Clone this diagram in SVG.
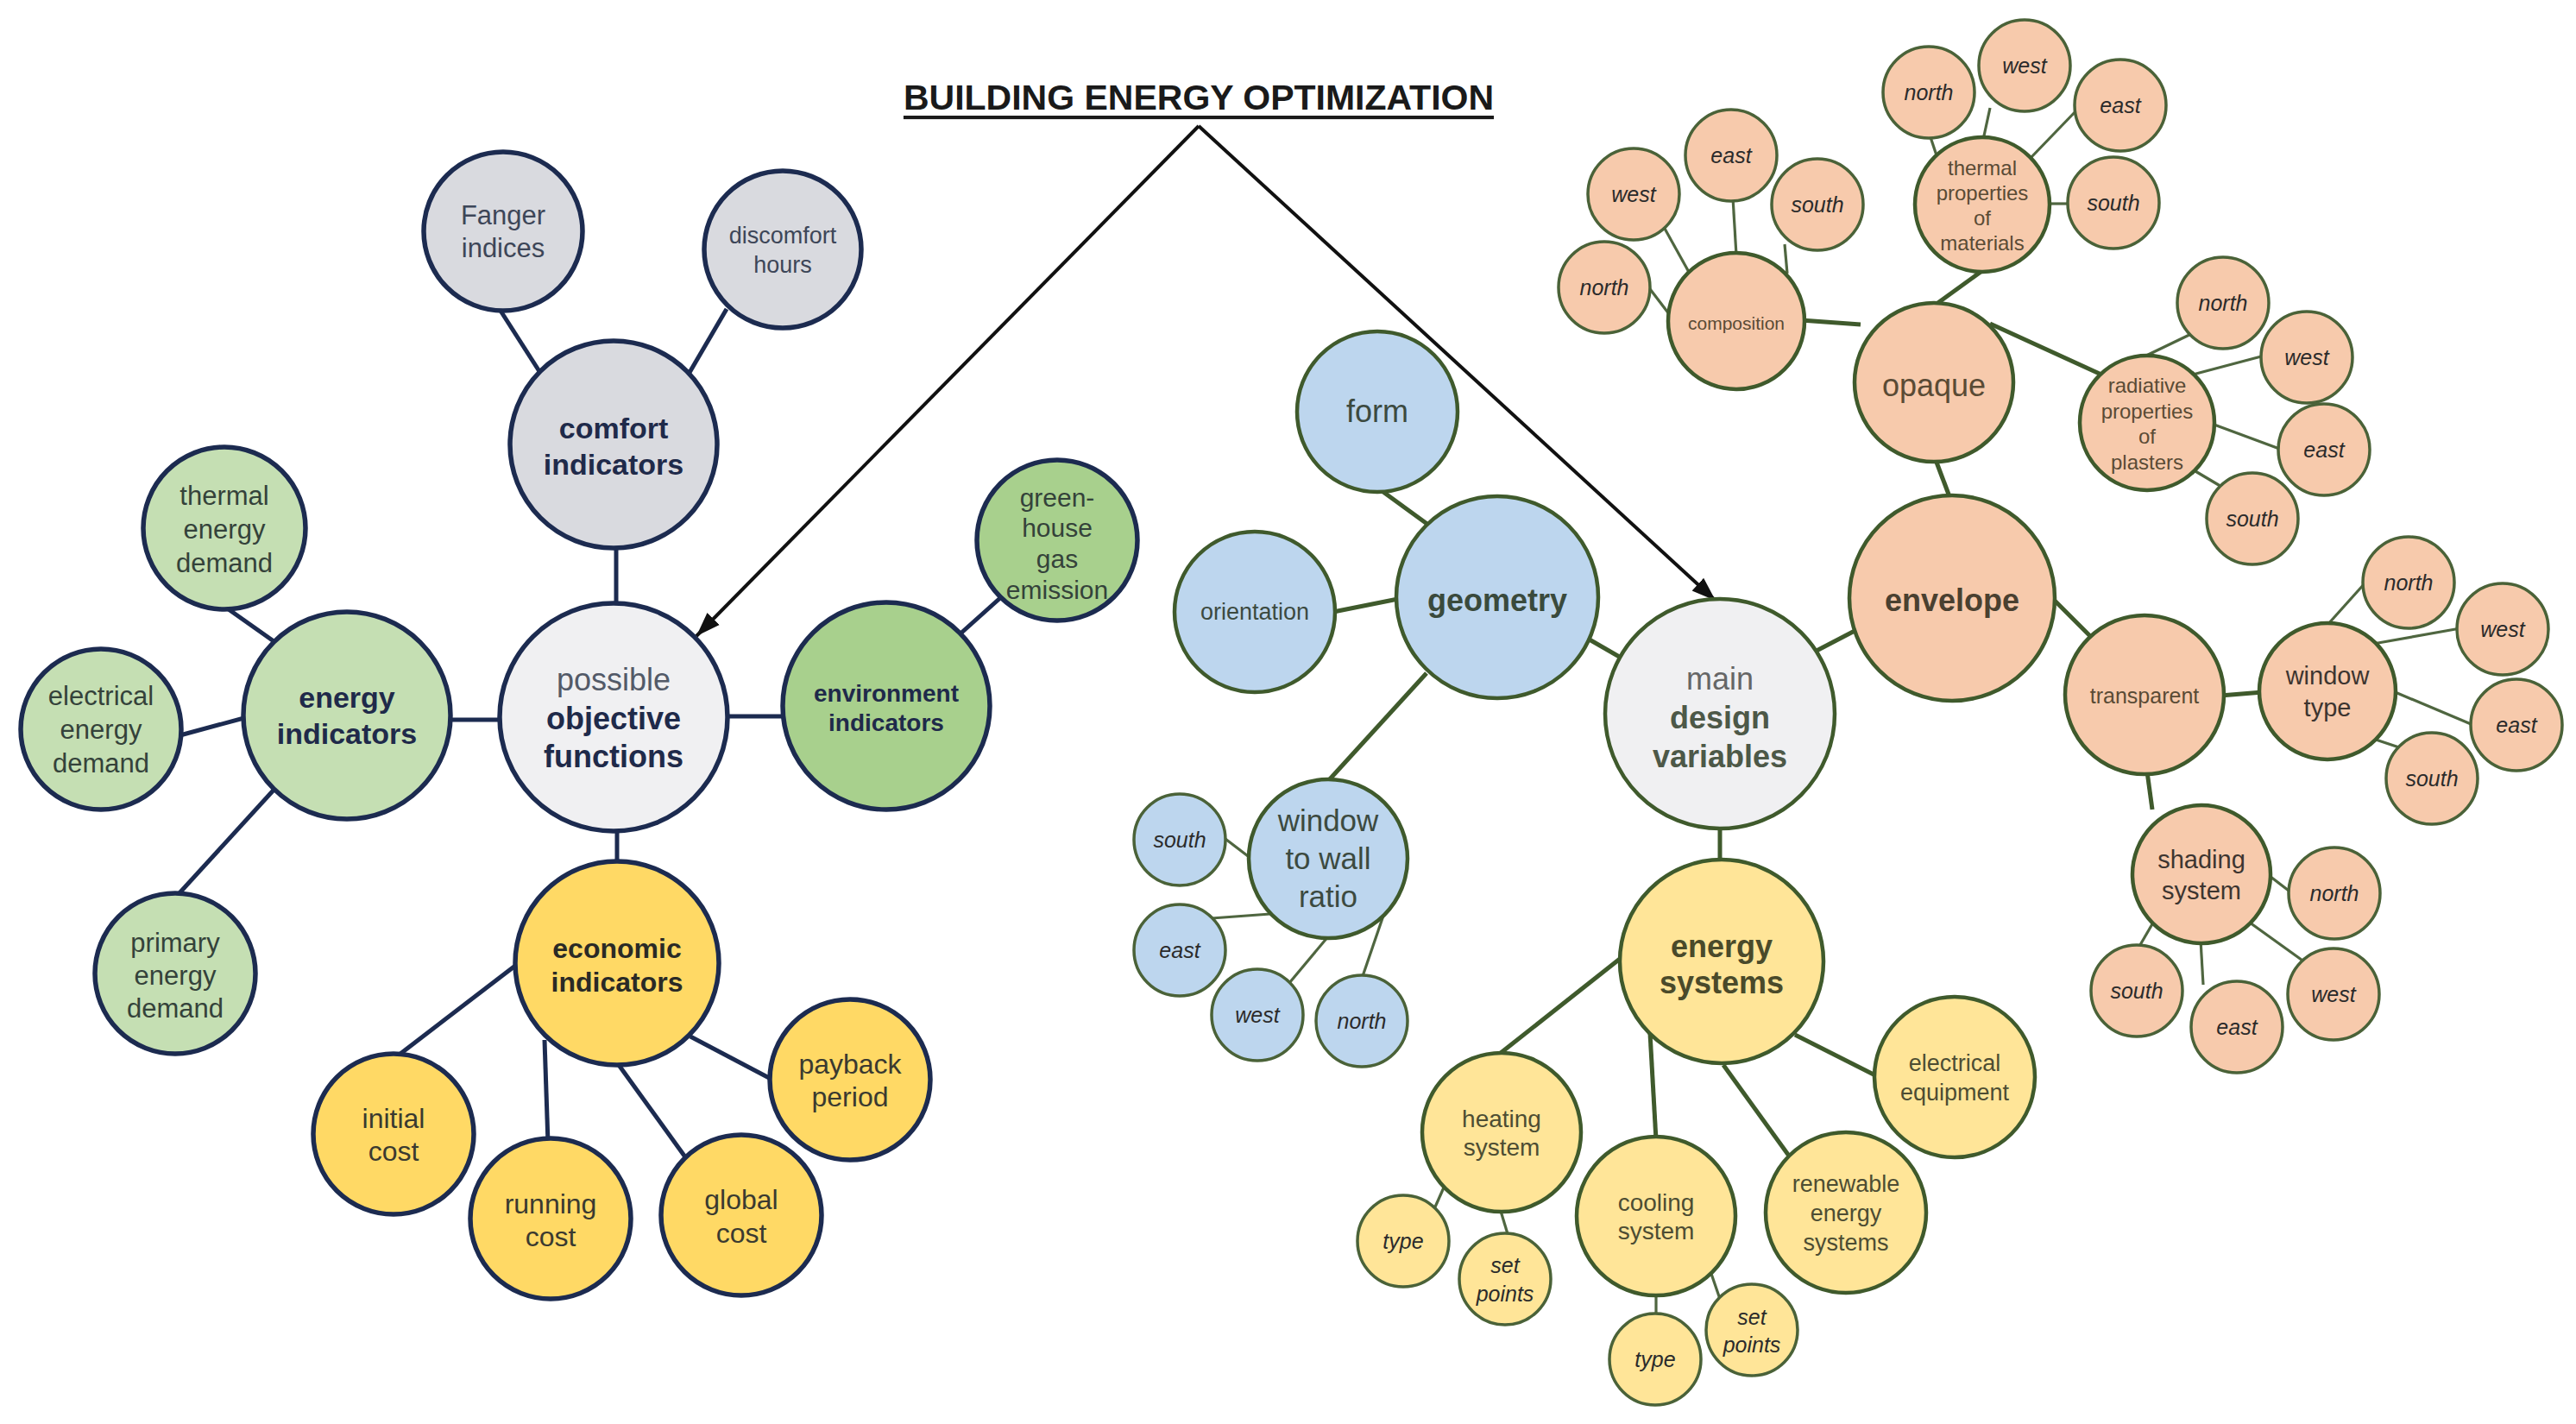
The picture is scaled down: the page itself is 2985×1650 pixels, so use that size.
<svg xmlns="http://www.w3.org/2000/svg" width="2985" height="1650" viewBox="0 0 2985 1650">
<defs>
<marker id="ah" markerUnits="userSpaceOnUse" markerWidth="30" markerHeight="24" refX="28" refY="12" orient="auto"><path d="M0,2 L28,12 L0,22 Z" fill="#111"/></marker>
<style>
text{font-family:"Liberation Sans",Arial,sans-serif;text-anchor:middle;dominant-baseline:central}
.nv{stroke:#1c2b50;stroke-width:5.5}
.gk{stroke:#3f5a2c;stroke-width:4.5}
.gs{stroke:#4a6238;stroke-width:3.5}
.lnv{stroke:#1c2b50;stroke-width:5;fill:none}
.lg{stroke:#3f5a2c;stroke-width:5;fill:none}
.lgs{stroke:#4f6640;stroke-width:3.2;fill:none}
.fgray{fill:#d9dadf}.flight{fill:#f0f0f2}.fgl{fill:#c5dfb3}.fgd{fill:#a8d08d}.fyd{fill:#ffd965}
.fblue{fill:#bdd6ee}.fyl{fill:#ffe598}.for{fill:#f7caac}
.t{fill:#3d4658}.tb{fill:#1f2a4a;font-weight:bold}.tg{fill:#34423a}.ty{fill:#3a3a30}.tyb{fill:#2a2a26;font-weight:bold}
.rb{fill:#3c4a40}.rbb{fill:#3a4a3c;font-weight:bold}.ry{fill:#4d4d33}.ryb{fill:#4a4a2a;font-weight:bold}
.ro{fill:#5a4b35}.rob{fill:#4a4030;font-weight:bold}.cp{fill:#2b2b2b;font-style:italic;font-size:25px}
</style>
</defs>
<rect width="2985" height="1650" fill="#fff"/>
<text x="1389" y="113" style="font-size:41px;font-weight:bold;fill:#1a1a1a;text-decoration:underline">BUILDING ENERGY OPTIMIZATION</text>
<g id="connectors">
<line x1="1389" y1="146" x2="807" y2="737" stroke="#111" stroke-width="4" marker-end="url(#ah)"/>
<line x1="1389" y1="146" x2="1988" y2="696" stroke="#111" stroke-width="4" marker-end="url(#ah)"/>
<line class="lnv" x1="580" y1="360" x2="628" y2="435"/>
<line class="lnv" x1="842" y1="358" x2="797" y2="435"/>
<line class="lnv" x1="714" y1="630" x2="714" y2="705"/>
<line class="lnv" x1="262" y1="704" x2="320" y2="745"/>
<line class="lnv" x1="205" y1="853" x2="290" y2="830"/>
<line class="lnv" x1="515" y1="834" x2="585" y2="834"/>
<line class="lnv" x1="838" y1="830" x2="912" y2="830"/>
<line class="lnv" x1="1112" y1="735" x2="1160" y2="692"/>
<line class="lnv" x1="322" y1="910" x2="205" y2="1038"/>
<line class="lnv" x1="715" y1="958" x2="715" y2="1003"/>
<line class="lnv" x1="597" y1="1119" x2="460" y2="1224"/>
<line class="lnv" x1="631" y1="1205" x2="635" y2="1325"/>
<line class="lnv" x1="717" y1="1234" x2="795" y2="1342"/>
<line class="lnv" x1="800" y1="1201" x2="895" y2="1251"/>
<line class="lg" x1="1596" y1="565" x2="1655" y2="608"/>
<line class="lg" x1="1545" y1="709" x2="1625" y2="693"/>
<line class="lg" x1="1840" y1="740" x2="1885" y2="766"/>
<line class="lg" x1="1653" y1="780" x2="1538" y2="906"/>
<line class="lgs" x1="1416" y1="969" x2="1450" y2="995"/>
<line class="lgs" x1="1404" y1="1064" x2="1472" y2="1059"/>
<line class="lgs" x1="1494" y1="1139" x2="1540" y2="1084"/>
<line class="lgs" x1="1578" y1="1134" x2="1604" y2="1058"/>
<line class="lg" x1="1993" y1="955" x2="1993" y2="1000"/>
<line class="lg" x1="1877" y1="1111" x2="1739" y2="1220"/>
<line class="lg" x1="1912" y1="1197" x2="1919" y2="1321"/>
<line class="lg" x1="1997" y1="1234" x2="2075" y2="1342"/>
<line class="lg" x1="2080" y1="1199" x2="2177" y2="1248"/>
<line class="lgs" x1="1673" y1="1376" x2="1661" y2="1403"/>
<line class="lgs" x1="1738" y1="1400" x2="1748" y2="1433"/>
<line class="lgs" x1="1919" y1="1497" x2="1919" y2="1526"/>
<line class="lgs" x1="1982" y1="1473" x2="1994" y2="1508"/>
<line class="lg" x1="2103" y1="755" x2="2151" y2="730"/>
<line class="lg" x1="2243" y1="533" x2="2260" y2="578"/>
<line class="lg" x1="2087" y1="371" x2="2156" y2="376"/>
<line class="lg" x1="2298" y1="313" x2="2240" y2="355"/>
<line class="lg" x1="2306" y1="375" x2="2435" y2="434"/>
<line class="lgs" x1="1909" y1="331" x2="1938" y2="369"/>
<line class="lgs" x1="1928" y1="263" x2="1958" y2="317"/>
<line class="lgs" x1="2008" y1="229" x2="2012" y2="296"/>
<line class="lgs" x1="2068" y1="283" x2="2071" y2="317"/>
<line class="lgs" x1="2236" y1="156" x2="2245" y2="183"/>
<line class="lgs" x1="2306" y1="125" x2="2298" y2="162"/>
<line class="lgs" x1="2409" y1="125" x2="2353" y2="183"/>
<line class="lgs" x1="2372" y1="236" x2="2401" y2="236"/>
<line class="lgs" x1="2485" y1="413" x2="2539" y2="387"/>
<line class="lgs" x1="2541" y1="434" x2="2624" y2="412"/>
<line class="lgs" x1="2563" y1="491" x2="2644" y2="521"/>
<line class="lgs" x1="2544" y1="546" x2="2576" y2="565"/>
<line class="lg" x1="2378" y1="693" x2="2426" y2="741"/>
<line class="lg" x1="2573" y1="806" x2="2622" y2="802"/>
<line class="lgs" x1="2697" y1="724" x2="2741" y2="675"/>
<line class="lgs" x1="2750" y1="746" x2="2851" y2="728"/>
<line class="lgs" x1="2773" y1="801" x2="2868" y2="841"/>
<line class="lgs" x1="2753" y1="857" x2="2780" y2="866"/>
<line class="lg" x1="2488" y1="894" x2="2494" y2="938"/>
<line class="lgs" x1="2626" y1="1012" x2="2656" y2="1035"/>
<line class="lgs" x1="2607" y1="1069" x2="2671" y2="1115"/>
<line class="lgs" x1="2550" y1="1089" x2="2553" y2="1141"/>
<line class="lgs" x1="2495" y1="1069" x2="2477" y2="1100"/>
</g>
<g id="fanger"><circle cx="583" cy="268" r="92" class="fgray nv"/><text class="t" x="583" y="249" font-size="31">Fanger</text><text class="t" x="583" y="287" font-size="31">indices</text></g>
<g id="discomfort"><circle cx="907" cy="289" r="91" class="fgray nv"/><text class="t" x="907" y="273" font-size="27">discomfort</text><text class="t" x="907" y="307" font-size="27">hours</text></g>
<g id="comfort"><circle cx="711" cy="515" r="120" class="fgray nv"/><text class="tb" x="711" y="496" font-size="34">comfort</text><text class="tb" x="711" y="538" font-size="34">indicators</text></g>
<g id="objective"><circle cx="711" cy="831" r="132" class="flight nv"/><text x="711" y="787" font-size="36" fill="#535a68">possible</text><text class="tb" x="711" y="832" font-size="36">objective</text><text class="tb" x="711" y="876" font-size="36">functions</text></g>
<g id="energy-ind"><circle cx="402" cy="829" r="120" class="fgl nv"/><text class="tb" x="402" y="808" font-size="34">energy</text><text class="tb" x="402" y="850" font-size="34">indicators</text></g>
<g id="thermal-demand"><circle cx="260" cy="612" r="94" class="fgl nv"/><text class="tg" x="260" y="574" font-size="31">thermal</text><text class="tg" x="260" y="613" font-size="31">energy</text><text class="tg" x="260" y="652" font-size="31">demand</text></g>
<g id="electrical-demand"><circle cx="117" cy="845" r="93" class="fgl nv"/><text class="tg" x="117" y="806" font-size="31">electrical</text><text class="tg" x="117" y="845" font-size="31">energy</text><text class="tg" x="117" y="884" font-size="31">demand</text></g>
<g id="primary-demand"><circle cx="203" cy="1128" r="93" class="fgl nv"/><text class="tg" x="203" y="1092" font-size="31">primary</text><text class="tg" x="203" y="1130" font-size="31">energy</text><text class="tg" x="203" y="1168" font-size="31">demand</text></g>
<g id="environment"><circle cx="1027" cy="818" r="120" class="fgd nv"/><text class="tb" x="1027" y="803" font-size="28" fill="#1f3040">environment</text><text class="tb" x="1027" y="837" font-size="28">indicators</text></g>
<g id="greenhouse"><circle cx="1225" cy="626" r="93" class="fgd nv"/><text class="tg" x="1225" y="576" font-size="30">green-</text><text class="tg" x="1225" y="611" font-size="30">house</text><text class="tg" x="1225" y="647" font-size="30">gas</text><text class="tg" x="1225" y="683" font-size="30">emission</text></g>
<g id="economic"><circle cx="715" cy="1116" r="118" class="fyd nv"/><text class="tyb" x="715" y="1099" font-size="32">economic</text><text class="tyb" x="715" y="1138" font-size="32">indicators</text></g>
<g id="initial"><circle cx="456" cy="1314" r="93" class="fyd nv"/><text class="ty" x="456" y="1296" font-size="32">initial</text><text class="ty" x="456" y="1334" font-size="32">cost</text></g>
<g id="running"><circle cx="638" cy="1412" r="93" class="fyd nv"/><text class="ty" x="638" y="1395" font-size="32">running</text><text class="ty" x="638" y="1433" font-size="32">cost</text></g>
<g id="global"><circle cx="859" cy="1408" r="93" class="fyd nv"/><text class="ty" x="859" y="1390" font-size="32">global</text><text class="ty" x="859" y="1429" font-size="32">cost</text></g>
<g id="payback"><circle cx="985" cy="1251" r="93" class="fyd nv"/><text class="ty" x="985" y="1233" font-size="32">payback</text><text class="ty" x="985" y="1271" font-size="32">period</text></g>
<g id="form"><circle cx="1596" cy="477" r="93" class="fblue gk"/><text class="rb" x="1596" y="476" font-size="36">form</text></g>
<g id="orientation"><circle cx="1454" cy="709" r="93" class="fblue gk"/><text class="rb" x="1454" y="709" font-size="27">orientation</text></g>
<g id="geometry"><circle cx="1735" cy="692" r="117" class="fblue gk"/><text class="rbb" x="1735" y="695" font-size="36">geometry</text></g>
<g id="main"><circle cx="1993" cy="827" r="133" class="flight gk"/><text x="1993" y="786" font-size="36" fill="#666">main</text><text x="1993" y="831" font-size="36" fill="#4d5848" font-weight="bold">design</text><text x="1993" y="876" font-size="36" fill="#4d5848" font-weight="bold">variables</text></g>
<g id="wwr"><circle cx="1539" cy="995" r="92" class="fblue gk"/><text class="rb" x="1539" y="950" font-size="35">window</text><text class="rb" x="1539" y="994" font-size="35">to wall</text><text class="rb" x="1539" y="1038" font-size="35">ratio</text></g>
<g id="wwr-south"><circle cx="1367" cy="973" r="53" class="fblue gs"/><text class="cp" x="1367" y="973">south</text></g>
<g id="wwr-east"><circle cx="1367" cy="1101" r="53" class="fblue gs"/><text class="cp" x="1367" y="1101">east</text></g>
<g id="wwr-west"><circle cx="1457" cy="1176" r="53" class="fblue gs"/><text class="cp" x="1457" y="1176">west</text></g>
<g id="wwr-north"><circle cx="1578" cy="1183" r="53" class="fblue gs"/><text class="cp" x="1578" y="1183">north</text></g>
<g id="energy-systems"><circle cx="1995" cy="1114" r="118" class="fyl gk"/><text class="ryb" x="1995" y="1096" font-size="36">energy</text><text class="ryb" x="1995" y="1138" font-size="36">systems</text></g>
<g id="heating"><circle cx="1740" cy="1312" r="92" class="fyl gk"/><text class="ry" x="1740" y="1296" font-size="28">heating</text><text class="ry" x="1740" y="1329" font-size="28">system</text></g>
<g id="cooling"><circle cx="1919" cy="1409" r="92" class="fyl gk"/><text class="ry" x="1919" y="1393" font-size="28">cooling</text><text class="ry" x="1919" y="1426" font-size="28">system</text></g>
<g id="renewable"><circle cx="2139" cy="1405" r="93" class="fyl gk"/><text class="ry" x="2139" y="1372" font-size="27">renewable</text><text class="ry" x="2139" y="1406" font-size="27">energy</text><text class="ry" x="2139" y="1440" font-size="27">systems</text></g>
<g id="electrical-eq"><circle cx="2265" cy="1248" r="93" class="fyl gk"/><text class="ry" x="2265" y="1232" font-size="27">electrical</text><text class="ry" x="2265" y="1266" font-size="27">equipment</text></g>
<g id="heating-type"><circle cx="1626" cy="1438" r="53" class="fyl gs"/><text class="cp" x="1626" y="1438">type</text></g>
<g id="heating-set"><circle cx="1744" cy="1482" r="53" class="fyl gs"/><text class="cp" x="1744" y="1466">set</text><text class="cp" x="1744" y="1499">points</text></g>
<g id="cooling-type"><circle cx="1918" cy="1575" r="53" class="fyl gs"/><text class="cp" x="1918" y="1575">type</text></g>
<g id="cooling-set"><circle cx="2030" cy="1541" r="53" class="fyl gs"/><text class="cp" x="2030" y="1526">set</text><text class="cp" x="2030" y="1558">points</text></g>
<g id="envelope"><circle cx="2262" cy="693" r="119" class="for gk"/><text class="rob" x="2262" y="695" font-size="36">envelope</text></g>
<g id="opaque"><circle cx="2241" cy="443" r="92" class="for gk"/><text class="ro" x="2241" y="446" font-size="36">opaque</text></g>
<g id="composition"><circle cx="2012" cy="372" r="79" class="for gk"/><text class="ro" x="2012" y="374" font-size="21">composition</text></g>
<g id="thermal-props"><circle cx="2297" cy="237" r="78" class="for gk"/><text class="ro" x="2297" y="194" font-size="24">thermal</text><text class="ro" x="2297" y="223" font-size="24">properties</text><text class="ro" x="2297" y="252" font-size="24">of</text><text class="ro" x="2297" y="281" font-size="24">materials</text></g>
<g id="radiative-props"><circle cx="2488" cy="490" r="78" class="for gk"/><text class="ro" x="2488" y="446" font-size="24">radiative</text><text class="ro" x="2488" y="476" font-size="24">properties</text><text class="ro" x="2488" y="505" font-size="24">of</text><text class="ro" x="2488" y="535" font-size="24">plasters</text></g>
<g id="comp-north"><circle cx="1859" cy="333" r="53" class="for gs"/><text class="cp" x="1859" y="333">north</text></g>
<g id="comp-west"><circle cx="1893" cy="225" r="53" class="for gs"/><text class="cp" x="1893" y="225">west</text></g>
<g id="comp-east"><circle cx="2006" cy="180" r="53" class="for gs"/><text class="cp" x="2006" y="180">east</text></g>
<g id="comp-south"><circle cx="2106" cy="237" r="53" class="for gs"/><text class="cp" x="2106" y="237">south</text></g>
<g id="tp-north"><circle cx="2235" cy="107" r="53" class="for gs"/><text class="cp" x="2235" y="107">north</text></g>
<g id="tp-west"><circle cx="2346" cy="76" r="53" class="for gs"/><text class="cp" x="2346" y="76">west</text></g>
<g id="tp-east"><circle cx="2457" cy="122" r="53" class="for gs"/><text class="cp" x="2457" y="122">east</text></g>
<g id="tp-south"><circle cx="2449" cy="235" r="53" class="for gs"/><text class="cp" x="2449" y="235">south</text></g>
<g id="rp-north"><circle cx="2576" cy="351" r="53" class="for gs"/><text class="cp" x="2576" y="351">north</text></g>
<g id="rp-west"><circle cx="2673" cy="414" r="53" class="for gs"/><text class="cp" x="2673" y="414">west</text></g>
<g id="rp-east"><circle cx="2693" cy="521" r="53" class="for gs"/><text class="cp" x="2693" y="521">east</text></g>
<g id="rp-south"><circle cx="2610" cy="601" r="53" class="for gs"/><text class="cp" x="2610" y="601">south</text></g>
<g id="transparent"><circle cx="2485" cy="805" r="92" class="for gk"/><text class="ro" x="2485" y="806" font-size="25">transparent</text></g>
<g id="window-type"><circle cx="2697" cy="801" r="79" class="for gk"/><text x="2697" y="783" font-size="29" fill="#3d3530">window</text><text x="2697" y="820" font-size="29" fill="#3d3530">type</text></g>
<g id="wt-north"><circle cx="2791" cy="675" r="53" class="for gs"/><text class="cp" x="2791" y="675">north</text></g>
<g id="wt-west"><circle cx="2900" cy="729" r="53" class="for gs"/><text class="cp" x="2900" y="729">west</text></g>
<g id="wt-east"><circle cx="2916" cy="840" r="53" class="for gs"/><text class="cp" x="2916" y="840">east</text></g>
<g id="wt-south"><circle cx="2818" cy="902" r="53" class="for gs"/><text class="cp" x="2818" y="902">south</text></g>
<g id="shading"><circle cx="2551" cy="1013" r="80" class="for gk"/><text x="2551" y="996" font-size="29" fill="#3d3530">shading</text><text x="2551" y="1032" font-size="29" fill="#3d3530">system</text></g>
<g id="sh-north"><circle cx="2705" cy="1035" r="53" class="for gs"/><text class="cp" x="2705" y="1035">north</text></g>
<g id="sh-west"><circle cx="2704" cy="1152" r="53" class="for gs"/><text class="cp" x="2704" y="1152">west</text></g>
<g id="sh-east"><circle cx="2592" cy="1190" r="53" class="for gs"/><text class="cp" x="2592" y="1190">east</text></g>
<g id="sh-south"><circle cx="2476" cy="1148" r="53" class="for gs"/><text class="cp" x="2476" y="1148">south</text></g>
</svg>
